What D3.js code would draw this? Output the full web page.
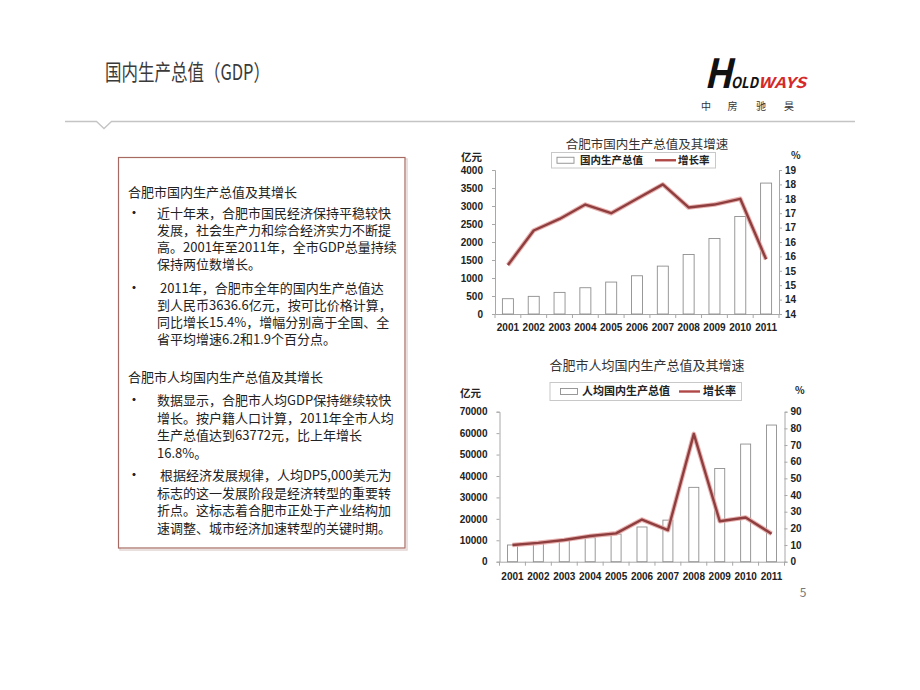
<!DOCTYPE html>
<html><head><meta charset="utf-8">
<script src="https://cdn.jsdelivr.net/npm/d3@7"></script>
<style>
body{margin:0;background:#fff;}
svg{display:block;}
text{font-family:"Noto Sans CJK SC","Noto Sans",sans-serif;}
.ax text{font-family:"Liberation Sans",Arial,sans-serif;font-weight:bold;font-size:10px;fill:#222;}
.ax path,.ax line{stroke:#a8a8a8;}
</style></head><body>
<svg id="c" width="920" height="690"></svg>
<script>
// ---------- data ----------
const years = ['2001','2002','2003','2004','2005','2006','2007','2008','2009','2010','2011'];
const gdpValues = [425, 490, 600, 730, 887, 1062, 1330, 1654, 2097, 2707, 3636.6];
const gdpGrowth = [15.7, 16.9, 17.3, 17.8, 17.5, 18.0, 18.5, 17.7, 17.8, 18.0, 15.9];
const gdpLeftTicks = [0, 500, 1000, 1500, 2000, 2500, 3000, 3500, 4000];
const gdpRightTickValues = [14, 14.5, 15, 15.5, 16, 16.5, 17, 17.5, 18, 18.5, 19];
const gdpRightTickLabels = ['14','14','15','15','16','16','17','17','18','18','19'];

const pcGdpValues = [7800, 8900, 10100, 11200, 12900, 16200, 19400, 34700, 43500, 54900, 63772];
const pcGrowth = [10.0, 11.3, 13.0, 15.4, 17.0, 25.3, 18.9, 76.7, 24.3, 26.5, 16.8];
const pcLeftTicks = [0, 10000, 20000, 30000, 40000, 50000, 60000, 70000];
const pcRightTickValues = [0, 10, 20, 30, 40, 50, 60, 70, 80, 90];
const pcRightTickLabels = ['0','10','20','30','40','50','60','70','80','90'];

const para1Head = '合肥市国内生产总值及其增长';
const para1Bullet1 = ['近十年来，合肥市国民经济保持平稳较快','发展，社会生产力和综合经济实力不断提','高。2001年至2011年，全市GDP总量持续','保持两位数增长。'];
const para1Bullet2 = [' 2011年，合肥市全年的国内生产总值达','到人民币3636.6亿元，按可比价格计算，','同比增长15.4%，增幅分别高于全国、全','省平均增速6.2和1.9个百分点。'];
const para2Head = '合肥市人均国内生产总值及其增长';
const para2Bullet1 = ['数据显示，合肥市人均GDP保持继续较快','增长。按户籍人口计算，2011年全市人均','生产总值达到63772元，比上年增长','16.8%。'];
const para2Bullet2 = [' 根据经济发展规律，人均DP5,000美元为','标志的这一发展阶段是经济转型的重要转','折点。这标志着合肥市正处于产业结构加','速调整、城市经济加速转型的关键时期。'];

// ---------- page ----------
const svg = d3.select('#c');
svg.append('rect').attr('width',920).attr('height',690).attr('fill','#fff');

// title
svg.append('text').attr('x',105).attr('y',80).attr('font-size',22).attr('fill','#3a3a3a')
  .attr('textLength',165).attr('lengthAdjust','spacingAndGlyphs').text('国内生产总值（GDP）');

// rule with notch
svg.append('path').attr('d','M65,121.5 L96.5,121.5 L104,128.5 L111.5,121.5 L855,121.5')
  .attr('fill','none').attr('stroke','#c4c4c4').attr('stroke-width',1.3);

// logo (one text element)
const logo = svg.append('text').attr('y',88).attr('font-weight','bold').attr('font-style','italic')
  .attr('font-family','"DejaVu Sans Condensed","DejaVu Sans",sans-serif').attr('fill','#111');
logo.append('tspan').attr('x',704).attr('font-size',40).attr('textLength',28)
  .attr('lengthAdjust','spacingAndGlyphs').text('H');
logo.append('tspan').attr('x',731).attr('font-size',15).attr('textLength',27)
  .attr('lengthAdjust','spacingAndGlyphs').text('OLD');
logo.append('tspan').attr('x',758).attr('font-size',15).attr('fill','#d42a2a').attr('textLength',48)
  .attr('lengthAdjust','spacingAndGlyphs').text('WAYS');
['中','房','驰','昊'].forEach((c,i)=>{
  svg.append('text').attr('x',[706,732.5,761,789][i]).attr('y',110).attr('text-anchor','middle')
    .attr('font-size',10).attr('fill','#333').text(c);
});

// text box
svg.append('rect').attr('x',120).attr('y',159).attr('width',287).attr('height',391)
  .attr('fill','none').attr('stroke','#e2d6d4').attr('stroke-width',1.5);
svg.append('rect').attr('x',118.5).attr('y',157.5).attr('width',286.5).attr('height',390.5)
  .attr('fill','#fff').attr('stroke','#a66a62').attr('stroke-width',1.2);

const tb = svg.append('g').attr('font-size',13).attr('fill','#222');
function para(head, headY, bullets) {
  tb.append('text').attr('x',128).attr('y',headY).text(head);
  bullets.forEach(b=>{
    tb.append('text').attr('x',128).attr('y',b.y).attr('font-size',12).attr('font-weight','bold').text('•');
    const t = tb.append('text').attr('y',b.y).style('white-space','pre');
    b.lines.forEach((l,i)=>{
      t.append('tspan').attr('x',157).attr('dy', i===0 ? 0 : b.dy).text(l);
    });
  });
}
para(para1Head, 197, [{y:218, dy:17, lines:para1Bullet1},{y:293, dy:17, lines:para1Bullet2}]);
para(para2Head, 382, [{y:405, dy:17.6, lines:para2Bullet1},{y:480, dy:17.6, lines:para2Bullet2}]);

// page number
svg.append('text').attr('x',803).attr('y',597).attr('text-anchor','middle').attr('font-size',12)
  .attr('font-family','"Liberation Sans",Arial,sans-serif').attr('fill','#777').text('5');

// ---------- charts ----------
function drawChart(o) {
  const g = svg.append('g');
  const x = d3.scaleBand().domain(years).range([o.x0, o.x1]);
  const yL = d3.scaleLinear().domain([0, o.lMax]).range([o.yb, o.yt]);
  const yR = d3.scaleLinear().domain(o.rDomain).range([o.yb, o.yt]);
  const cx = i => x(years[i]) + x.bandwidth()/2;

  // title
  g.append('text').attr('x',o.titleX).attr('y',o.titleY).attr('text-anchor','middle')
    .attr('font-size',o.titleFs).attr('fill','#333').text(o.title);

  // axes
  const axL = d3.axisLeft(yL).tickValues(o.lTicks).tickSize(3).tickPadding(o.lPad).tickFormat(d3.format('d'));
  g.append('g').attr('class','ax').attr('transform',`translate(${o.x0},0)`).call(axL);
  const axR = d3.axisRight(yR).tickValues(o.rTicks).tickSize(3).tickPadding(3).tickFormat((d,i)=>o.rLabels[i]);
  g.append('g').attr('class','ax').attr('transform',`translate(${o.x1},0)`).call(axR);
  const axX = d3.axisBottom(x).tickSize(0).tickPadding(o.xPad);
  g.append('g').attr('class','ax').attr('transform',`translate(0,${o.yb})`).call(axX);
  // category boundary ticks
  g.selectAll('line.bt').data(d3.range(years.length+1)).join('line')
    .attr('x1',i=>o.x0 + i*x.step()).attr('x2',i=>o.x0 + i*x.step())
    .attr('y1',o.yb).attr('y2',o.yb+4).attr('stroke','#a8a8a8');

  // bars
  g.selectAll('rect.bar').data(o.bars).join('rect').attr('class','bar')
    .attr('x',(d,i)=>cx(i) - o.bw/2).attr('y',d=>yL(d))
    .attr('width',o.bw).attr('height',d=>o.yb - yL(d))
    .attr('fill','#fff').attr('stroke','#8e8e8e').attr('stroke-width',0.9);

  // growth line
  const line = d3.line().x((d,i)=>cx(i)).y(d=>yR(d));
  g.append('path').datum(o.growth).attr('d',line).attr('fill','none')
    .attr('stroke','#e4a4a2').attr('stroke-width',4.6).attr('stroke-linejoin','round').attr('opacity',0.85);
  g.append('path').datum(o.growth).attr('d',line).attr('fill','none')
    .attr('stroke','#8e3e3e').attr('stroke-width',2.4).attr('stroke-linejoin','round');

  // unit labels
  g.append('text').attr('x',o.unitLX).attr('y',o.unitY).attr('font-size',10.5).attr('font-weight','bold')
    .attr('fill','#222').text('亿元');
  g.append('text').attr('x',o.unitRX).attr('y',o.unitRY).attr('font-size',10).attr('font-weight','bold')
    .attr('font-family','"Liberation Sans",Arial,sans-serif').attr('fill','#222').text('%');

  // legend
  const L = o.legend;
  g.append('rect').attr('x',L.x).attr('y',L.y).attr('width',L.w).attr('height',L.h)
    .attr('fill','#fff').attr('stroke','#c8c8c8').attr('stroke-width',1);
  const my = L.y + L.h/2;
  g.append('rect').attr('x',L.iconX).attr('y',my-3).attr('width',17).attr('height',6)
    .attr('fill','#fff').attr('stroke','#8e8e8e').attr('stroke-width',0.9);
  g.append('text').attr('x',L.t1X).attr('y',my).attr('dy','0.36em').attr('font-size',L.fs)
    .attr('font-weight','bold').attr('fill','#222').text(L.t1);
  g.append('line').attr('x1',L.lineX).attr('x2',L.lineX+L.lineW).attr('y1',my).attr('y2',my)
    .attr('stroke','#b04848').attr('stroke-width',2.4);
  g.append('text').attr('x',L.t2X).attr('y',my).attr('dy','0.36em').attr('font-size',L.fs)
    .attr('font-weight','bold').attr('fill','#222').text('增长率');
}

drawChart({
  title:'合肥市国内生产总值及其增速', titleX:647, titleY:149, titleFs:12.5,
  x0:495, x1:779, yb:314, yt:170, lMax:4000, rDomain:[14,19],
  lTicks:gdpLeftTicks, rTicks:gdpRightTickValues, rLabels:gdpRightTickLabels,
  lPad:9, xPad:10, bw:11, bars:gdpValues, growth:gdpGrowth,
  unitLX:461, unitY:161, unitRX:791, unitRY:159,
  legend:{x:551.5, y:152.5, w:164, h:15.5, iconX:557, t1X:580, t1:'国内生产总值', lineX:655, lineW:21, t2X:678, fs:10.5}
});

drawChart({
  title:'合肥市人均国内生产总值及其增速', titleX:647, titleY:370, titleFs:13,
  x0:499.5, x1:784.5, yb:561.7, yt:411.7, lMax:70000, rDomain:[0,90],
  lTicks:pcLeftTicks, rTicks:pcRightTickValues, rLabels:pcRightTickLabels,
  lPad:9, xPad:11, bw:10, bars:pcGdpValues, growth:pcGrowth,
  unitLX:460, unitY:397, unitRX:795, unitRY:394,
  legend:{x:550, y:382.5, w:191.5, h:18, iconX:560.5, t1X:582, t1:'人均国内生产总值', lineX:679, lineW:21, t2X:703, fs:11}
});
</script>
</body></html>
